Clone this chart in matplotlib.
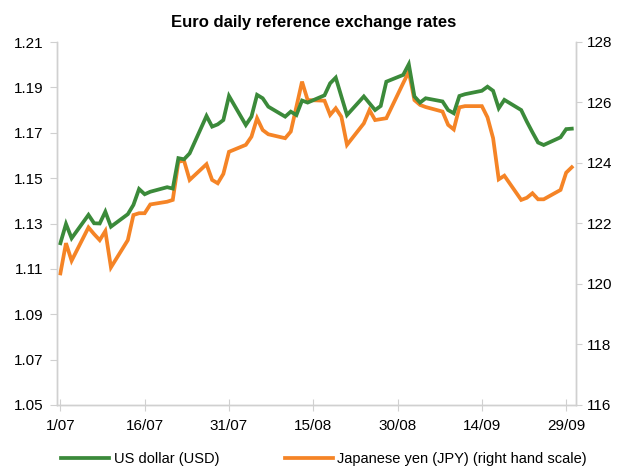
import numpy as np
import pandas as pd
import matplotlib
matplotlib.use("Agg")
import matplotlib.pyplot as plt

plt.rcParams["font.family"] = ["Liberation Sans", "DejaVu Sans"]

# ECB reference rates, business days 1 Jul - 30 Sep
dates = pd.bdate_range("2020-07-01", "2020-09-30")
usd = [1.1213, 1.1298, 1.1235, 1.1338, 1.1301, 1.1300, 1.1352, 1.1286,
       1.1341, 1.1382, 1.1452, 1.1429, 1.1440, 1.1460, 1.1454, 1.1588,
       1.1583, 1.1609, 1.1774, 1.1727, 1.1737, 1.1756, 1.1862,
       1.1734, 1.1771, 1.1867, 1.1852, 1.1815, 1.1771, 1.1793, 1.1778,
       1.1842, 1.1833, 1.1865, 1.1918, 1.1943, 1.1860, 1.1778, 1.1860,
       1.1830, 1.1800, 1.1818, 1.1925, 1.1955,
       1.2002, 1.1860, 1.1833, 1.1852, 1.1838, 1.1800, 1.1786, 1.1862,
       1.1870, 1.1885, 1.1903, 1.1885, 1.1808, 1.1845, 1.1800, 1.1749,
       1.1702, 1.1657, 1.1646, 1.1680, 1.1716, 1.1718]
jpy = [120.35, 121.35, 120.77, 121.87, 121.65, 121.45, 121.75, 120.55,
       121.45, 122.28, 122.34, 122.34, 122.63, 122.72, 122.78, 124.04,
       124.08, 123.44, 123.96, 123.44, 123.33, 123.64, 124.37,
       124.60, 124.87, 125.48, 125.09, 124.95, 124.82, 125.04, 125.86,
       126.69, 126.08, 126.06, 125.59, 125.81, 125.53, 124.60, 125.31,
       125.75, 125.42, 125.45, 125.48, 126.64,
       127.02, 126.08, 125.92, 125.85, 125.70, 125.26, 125.11, 125.84,
       125.88, 125.88, 125.51, 124.82, 123.46, 123.58, 122.78, 122.85,
       123.00, 122.80, 122.80, 123.11, 123.68, 123.86]
xtick_dates = ["2020-07-01", "2020-07-16", "2020-07-31", "2020-08-15",
               "2020-08-30", "2020-09-14", "2020-09-29"]
xtick_labels = ["1/07", "16/07", "31/07", "15/08", "30/08", "14/09", "29/09"]

GREEN = "#3b8a3a"
ORANGE = "#f58426"
AXC = "#d0d0d0"

start = pd.Timestamp("2020-07-01")
day = np.array([(d - start).days for d in dates])
tick_day = [(pd.Timestamp(d) - start).days for d in xtick_dates]

fig = plt.figure(figsize=(6.17, 4.67), dpi=100)
ax = fig.add_axes([57 / 617, 1 - 405 / 467, 519 / 617, 363 / 467])
ax2 = ax.twinx()

l1, = ax.plot(day, usd, color=GREEN, lw=2.7, solid_joinstyle="miter")
l2, = ax2.plot(day, jpy, color=ORANGE, lw=2.7, solid_joinstyle="miter")
ax.set_zorder(ax2.get_zorder() + 1)
ax.patch.set_visible(False)

ax.set_xlim(-0.6, 91.75)
ax.set_ylim(1.05, 1.21)
ax2.set_ylim(116, 128)
ax.set_yticks(np.arange(1.05, 1.2101, 0.02))
ax.set_yticklabels([f"{v:.2f}" for v in np.arange(1.05, 1.2101, 0.02)])
ax2.set_yticks(np.arange(116, 128.1, 2))
ax.set_xticks(tick_day)
ax.set_xticklabels(xtick_labels)

for a in (ax, ax2):
    a.spines["top"].set_visible(False)
    for s in ("left", "right", "bottom"):
        a.spines[s].set_color(AXC)
        a.spines[s].set_linewidth(1.0)
ax.tick_params(axis="y", length=5, color=AXC, labelsize=11, pad=5)
ax2.tick_params(axis="y", length=4, color=AXC, labelsize=11, pad=4)
ax.tick_params(axis="x", direction="inout", length=8, color=AXC, labelsize=11, pad=6)

fig.text(0.508, 1 - 23 / 467, "Euro daily reference exchange rates",
         ha="center", va="center", fontsize=12, fontweight="bold")

fig.legend([l1, l2], ["US dollar (USD)", "Japanese yen (JPY) (right hand scale)"],
           loc="lower left", bbox_to_anchor=(48 / 617, -12 / 467), ncol=2,
           frameon=False, fontsize=10.5, handlelength=3.3, handletextpad=0.3,
           columnspacing=4.5)

fig.savefig("out.png", dpi=100)
